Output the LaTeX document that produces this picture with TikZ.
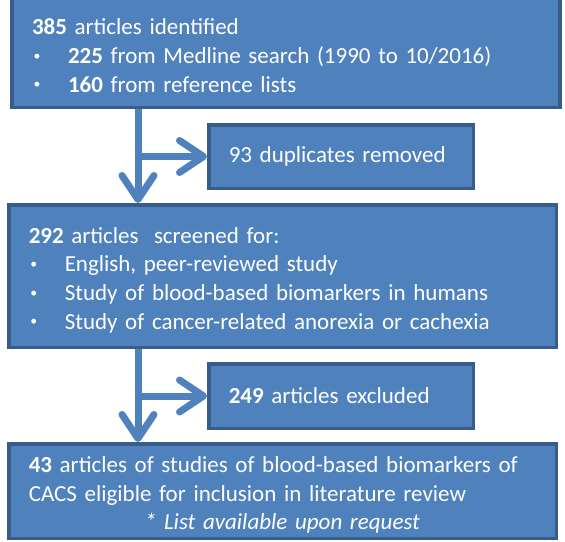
\documentclass[tikz,border=0pt]{standalone}
\usepackage{fontspec}
\setmainfont{Carlito}
\usepackage{tikz}
\usetikzlibrary{arrows.meta}
\definecolor{FlujoAzul}{HTML}{4F81BD}
\definecolor{FlujoBorde}{HTML}{385D8A}
\newcommand{\vineta}[1]{\makebox[36pt][l]{\hspace{1.5pt}\raisebox{3.2pt}{\scalebox{0.6}{\textbullet}}}#1}
\tikzset{
  caja/.style     = {draw=FlujoBorde, line width=3.5pt, fill=FlujoAzul,
                     text=white, align=left, inner xsep=20pt, inner ysep=0pt,
                     font=\fontsize{23}{28.6}\selectfont},
  cajaancha/.style = {caja, text width=508pt,
                      execute at begin node={\rule{0pt}{24pt}}},
  cajacorta/.style = {caja, text width=224.5pt},
  flechaazul/.style = {draw=FlujoAzul, line width=7pt,
                     -{Straight Barb[length=24pt,width=32pt,round]}},
}

\begin{document}
\begin{tikzpicture}[x=1pt, y=-1pt]
  \useasboundingbox (0,0) rectangle (565,541);
  \node[cajaancha, minimum height=111.5pt] (ident) at (286,51.5)
    {\textbf{385} articles identified\\
     \vineta{\textbf{225} from Medline search (1990 to 10/2016)}\\
     \vineta{\textbf{160} from reference lists}};
  \node[cajacorta, minimum height=63.5pt] (dupl) at (341,156.5)
    {93 duplicates removed};
  \node[cajaancha, text width=507.5pt, minimum height=142.5pt] (cribado) at (282.5,276)
    {\textbf{292} articles\ \ screened for:\\
     \vineta{English, peer-reviewed study}\\
     \vineta{Study of blood-based biomarkers in humans}\\
     \vineta{Study of cancer-related anorexia or cachexia}};
  \node[cajacorta, minimum height=64.5pt] (excl) at (341,396)
    {\textbf{249} articles excluded};
  \node[cajaancha, text width=507.5pt, minimum height=94.5pt] (incl) at (282.5,491)
    {\textbf{43} articles of studies of blood-based biomarkers of\\
     CACS eligible for inclusion in literature review\\
     \makebox[\hsize]{\textit{* List available upon request}}};
  \coordinate (eje) at (138,0);
  \draw[flechaazul] (ident.south -| eje) -- (cribado.north -| eje);
  \draw[flechaazul] (eje |- dupl.west) -- (dupl.west);
  \draw[flechaazul] (cribado.south -| eje) -- (incl.north -| eje);
  \draw[flechaazul] (eje |- excl.west) -- (excl.west);
\end{tikzpicture}
\end{document}
